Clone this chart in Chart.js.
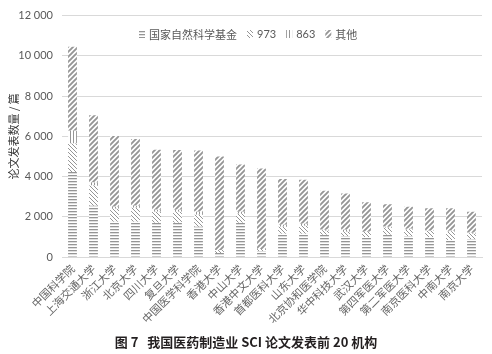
<!DOCTYPE html>
<html lang="zh">
<head>
<meta charset="utf-8">
<title>图 7 我国医药制造业 SCI 论文发表前 20 机构</title>
<script src="https://cdn.jsdelivr.net/npm/chart.js@4.4.1/dist/chart.umd.min.js"></script>
<style>
  html, body { margin: 0; padding: 0; background: #fff; }
  .wrap { position: relative; width: 492px; height: 354px; overflow: hidden; }
  #chart { position: absolute; left: 0; top: 0; }
  .caption {
    position: absolute; left: 0; top: 332px; width: 492px;
    text-align: center; color: #231f20;
    font: bold 13px "Noto Sans CJK SC", "Liberation Sans", sans-serif;
    white-space: pre;
  }
</style>
</head>
<body>
<div class="wrap">
  <canvas id="chart" width="492" height="334"></canvas>
  <div class="caption">图 7   我国医药制造业 SCI 论文发表前 20 机构</div>
</div>
<script>
// ---- data (papers per institution) ----
const institutions = [
  '中国科学院', '上海交通大学', '浙江大学', '北京大学', '四川大学',
  '复旦大学', '中国医学科学院', '香港大学', '中山大学', '香港中文大学',
  '首都医科大学', '山东大学', '北京协和医学院', '华中科技大学', '武汉大学',
  '第四军医大学', '第二军医大学', '南京医科大学', '中南大学', '南京大学'
];
const nsfc  = [4230, 2550, 1750, 1750, 1700, 1700, 1500, 200, 1700, 300, 1150, 1150, 1100, 1050, 1000, 1100, 1050, 1000, 850, 900];
const p973  = [1410, 1000, 650, 700, 550, 550, 600, 150, 450, 100, 350, 400, 200, 200, 250, 350, 300, 300, 400, 250];
const p863  = [640, 150, 100, 100, 100, 100, 150, 0, 100, 0, 100, 100, 50, 100, 0, 50, 50, 0, 50, 50];
const other = [4170, 3350, 3520, 3320, 2980, 2970, 3050, 4650, 2350, 4000, 2280, 2190, 1940, 1810, 1470, 1120, 1100, 1120, 1120, 1050];
const seriesNames = ['国家自然科学基金', '973', '863', '其他'];
const yTicks = [0, 2000, 4000, 6000, 8000, 10000, 12000];

(function () {
  'use strict';

  const GRAY = '#959595';
  const NUM_FONT = 'Lato, "Noto Sans CJK SC", sans-serif';
  const CJK_FONT = '"Noto Sans CJK SC", sans-serif';

  // ---- hatch patterns ----
  function makePattern(kind) {
    const c = document.createElement('canvas');
    const size = { horiz: [4, 3], vert: [3, 4], back: [4, 4], fwd: [5, 5] }[kind];
    c.width = size[0]; c.height = size[1];
    const g = c.getContext('2d');
    g.fillStyle = '#fff';
    g.fillRect(0, 0, c.width, c.height);
    g.fillStyle = GRAY;
    g.strokeStyle = GRAY;
    if (kind === 'horiz') {
      g.fillRect(0, 1, 4, 1.3);
    } else if (kind === 'vert') {
      g.fillRect(1, 0, 1, 4);
    } else if (kind === 'back') {
      g.lineWidth = 1;
      g.beginPath();
      g.moveTo(-1, -1); g.lineTo(5, 5);
      g.moveTo(-1, 3); g.lineTo(1, 5);
      g.moveTo(3, -1); g.lineTo(5, 1);
      g.stroke();
    } else {
      g.lineWidth = 1.9;
      g.beginPath();
      g.moveTo(-1, 6); g.lineTo(6, -1);
      g.moveTo(-1, 1); g.lineTo(1, -1);
      g.moveTo(4, 6); g.lineTo(6, 4);
      g.stroke();
    }
    return g.createPattern(c, 'repeat');
  }

  const patterns = [makePattern('horiz'), makePattern('back'), makePattern('vert'), makePattern('fwd')];
  const values = [nsfc, p973, p863, other];

  const datasets = seriesNames.map((name, i) => ({
    label: name,
    data: values[i],
    backgroundColor: patterns[i],
    borderWidth: 0,
    barPercentage: 0.42,
    categoryPercentage: 1
  }));

  // ---- legend drawn inside the plot, centred on the canvas ----
  const hatchLegend = {
    id: 'hatchLegend',
    afterDraw(chart) {
      const ctx = chart.ctx;
      ctx.save();
      const items = seriesNames.map((name, i) => {
        ctx.font = (/^\d+$/.test(name) ? '11px ' + NUM_FONT : '11px ' + CJK_FONT);
        return { name, font: ctx.font, w: 6 + 4 + ctx.measureText(name).width, pat: patterns[i] };
      });
      const gap = 10;
      const total = items.reduce((s, it) => s + it.w, 0) + gap * (items.length - 1);
      let x = Math.round(248 - total / 2);
      const y = 34;
      items.forEach(it => {
        ctx.fillStyle = it.pat;
        ctx.fillRect(x, y - 4, 6, 8);
        ctx.font = it.font;
        ctx.fillStyle = '#595959';
        ctx.textBaseline = 'middle';
        ctx.fillText(it.name, x + 10, y + 0.5);
        x += it.w + gap;
      });
      ctx.restore();
    }
  };

  const fmt = (v) => String(v).replace(/\B(?=(\d{3})+(?!\d))/g, ' ');

  new Chart(document.getElementById('chart'), {
    type: 'bar',
    data: { labels: institutions, datasets },
    options: {
      responsive: false,
      animation: false,
      layout: { padding: { top: 14, right: 10, left: 0, bottom: 0 } },
      plugins: {
        legend: { display: false },
        tooltip: { enabled: false }
      },
      scales: {
        x: {
          stacked: true,
          grid: { display: false, drawTicks: false },
          border: { display: true, color: '#d9d9d9' },
          ticks: {
            color: '#666',
            font: { family: CJK_FONT, size: 11 },
            minRotation: 45, maxRotation: 45,
            padding: 5,
            autoSkip: false
          },
          afterFit: (s) => { s.height = 334 - 257; }
        },
        y: {
          stacked: true,
          min: 0, max: 12000,
          afterBuildTicks: (s) => { s.ticks = yTicks.map(v => ({ value: v })); },
          grid: { color: '#d9d9d9', drawTicks: false },
          border: { display: false },
          ticks: {
            color: '#595959',
            font: { family: NUM_FONT, size: 11 },
            padding: 9,
            callback: fmt
          },
          title: {
            display: true,
            text: '论文发表数量 / 篇',
            color: '#333',
            font: { family: CJK_FONT, size: 11 },
            padding: { top: 7, bottom: 0 }
          },
          afterFit: (s) => { s.width = 62; }
        }
      }
    },
    plugins: [hatchLegend]
  });
})();
</script>
</body>
</html>
